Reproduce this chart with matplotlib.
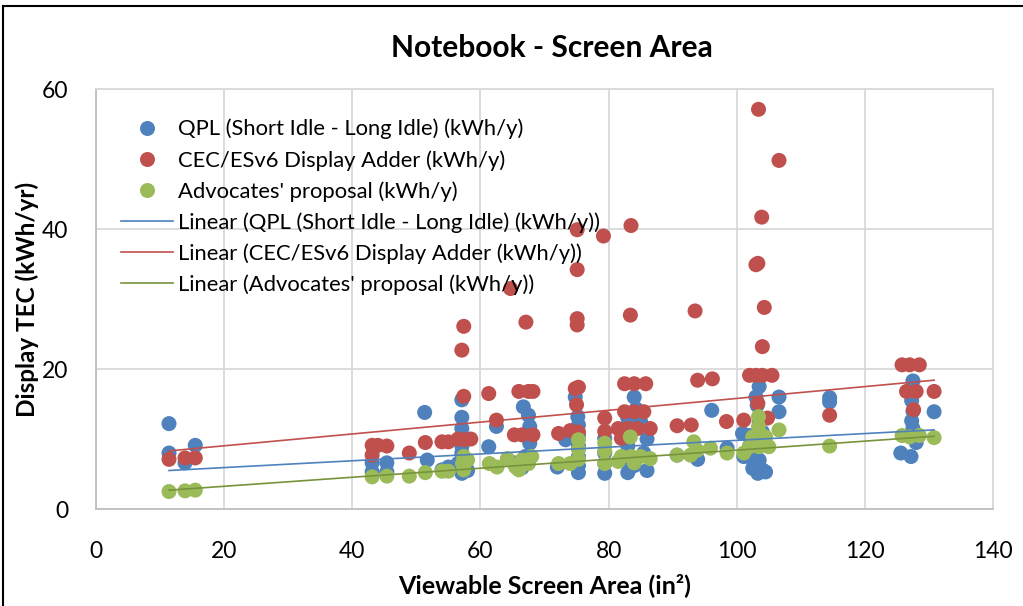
import numpy as np
import matplotlib.pyplot as plt
from matplotlib.lines import Line2D

plt.rcParams['font.family'] = ['Lato', 'DejaVu Sans']

# QPL (Short Idle - Long Idle)
qpl_x = [11.4, 11.4, 13.9, 15.5,
         43.1, 43.1, 45.4, 45.4,
         51.3, 51.7, 54.0, 55.0,
         57.1, 57.1, 57.1, 57.1, 57.1, 57.1, 57.1, 57.1, 57.1, 56.5, 58.0,
         61.3, 62.5,
         65.2, 66.7, 67.5, 67.7, 67.7, 66.5, 67.0,
         72.0, 73.3, 74.8, 75.2, 75.3, 75.3, 75.3, 75.3, 75.3, 75.3,
         79.4, 79.4, 79.4, 79.4,
         84.0, 84.3, 83.0, 85.0, 82.5, 86.0, 83.0, 85.5, 82.5, 84.0, 86.0, 83.0,
         93.9, 96.1, 90.7, 98.5,
         100.9, 101.1,
         103.5, 103.0, 103.2, 102.0, 102.0, 102.5, 103.5, 104.0, 103.5, 103.0, 104.0, 103.3, 104.5, 102.5,
         106.6, 106.6,
         114.5, 114.5,
         125.6, 127.2, 127.5, 127.5, 127.3, 127.5, 127.3, 127.5, 128.0,
         130.8]
qpl_y = [12.2, 8.0, 6.6, 9.1,
         6.6, 5.3, 6.6, 5.3,
         13.8, 7.0, 5.6, 6.0,
         15.6, 13.1, 11.5, 10.0, 9.0, 8.0, 7.0, 6.0, 5.1, 6.5, 5.5,
         8.9, 11.8,
         6.6, 14.6, 13.4, 11.8, 9.4, 5.9, 7.5,
         6.0, 9.9, 16.0, 13.2, 12.0, 10.5, 9.0, 7.5, 6.2, 5.2,
         10.1, 8.0, 6.5, 5.1,
         16.0, 14.3, 13.0, 12.5, 11.0, 10.0, 9.0, 8.0, 7.0, 6.2, 5.5, 5.2,
         7.1, 14.1, 7.7, 8.7,
         10.8, 7.5,
         17.5, 16.0, 14.8, 10.5, 9.0, 7.1, 12.5, 11.0, 7.0, 6.3, 5.6, 5.1, 5.3, 5.8,
         16.0, 13.9,
         15.9, 15.3,
         8.0, 7.5, 18.3, 17.0, 15.5, 14.0, 12.6, 11.5, 9.5,
         13.9]

# CEC/ESv6 Display Adder
cec_x = [11.4, 13.9, 15.5,
         43.1, 45.4, 43.1, 44.0,
         48.9, 51.4, 54.0, 55.0,
         57.4, 57.1, 57.4, 56.5, 58.5, 57.5,
         61.3, 62.5,
         64.7,
         67.1, 66.0, 67.5, 68.2, 65.3, 66.5, 68.2,
         72.2, 74.8, 75.3, 75.0, 75.1, 75.1, 75.1, 75.1, 75.3, 74.0,
         79.2, 79.4, 79.4,
         83.5, 83.4, 82.5, 84.0, 85.8, 82.5, 84.0, 85.5, 81.5, 83.0, 84.5, 86.5, 82.0,
         90.7, 92.9,
         93.5, 93.9, 96.2,
         98.4, 101.1,
         103.4, 106.6, 103.9, 103.0, 103.3, 104.3, 104.0, 102.0, 103.0, 104.0, 105.5, 103.3, 104.8,
         114.5,
         125.8, 127.0, 128.5, 126.5, 128.0, 127.6,
         130.8]
cec_y = [7.1, 7.3, 7.3,
         9.1, 9.0, 7.7, 9.1,
         8.0, 9.5, 9.6, 9.6,
         26.1, 22.7, 16.1, 10.0, 10.0, 9.9,
         16.5, 12.7,
         31.5,
         26.7, 16.8, 16.8, 16.8, 10.6, 10.6, 10.6,
         10.8, 17.2, 17.4, 14.9, 27.2, 26.3, 39.9, 34.2, 11.0, 11.2,
         39.0, 13.0, 11.1,
         40.5, 27.7, 17.9, 17.9, 17.9, 13.9, 13.9, 13.9, 11.5, 11.5, 11.5, 11.5, 10.1,
         11.9, 12.0,
         28.3, 18.4, 18.6,
         12.5, 12.7,
         57.1, 49.8, 41.7, 34.9, 35.1, 28.8, 23.2, 19.1, 19.1, 19.1, 19.1, 15.1, 13.0,
         13.4,
         20.6, 20.6, 20.6, 16.8, 16.8, 14.2,
         16.8]

# Advocates' proposal
adv_x = [11.4, 13.9, 15.5,
         43.1, 45.4, 48.9, 51.4, 54.0, 55.0,
         57.4, 57.2, 57.4, 58.0,
         61.4, 62.6,
         64.2, 65.5, 66.5, 67.5, 68.0, 66.0,
         72.2, 75.3, 75.3, 75.3, 74.0,
         79.4, 79.4, 79.4,
         83.4, 82.0, 83.5, 85.0, 86.5, 81.5, 84.0,
         90.7, 92.8, 93.3, 93.8, 95.9, 98.5, 101.1,
         103.4, 103.4, 102.5, 104.5, 102.0, 103.5, 105.0, 106.6,
         114.5,
         125.8, 127.0, 128.5,
         130.8]
adv_y = [2.5, 2.6, 2.7,
         4.6, 4.7, 4.7, 5.2, 5.4, 5.4,
         7.5, 6.5, 5.6, 7.0,
         6.5, 6.0,
         7.2, 6.0, 7.0, 6.5, 7.5, 5.6,
         6.5, 9.9, 8.5, 7.1, 6.5,
         9.4, 8.3, 6.5,
         10.3, 7.5, 7.5, 7.5, 7.2, 6.8, 6.6,
         7.7, 7.7, 9.6, 8.4, 8.7, 8.0, 8.0,
         13.2, 11.8, 10.3, 10.3, 8.9, 8.9, 8.9, 11.3,
         9.0,
         10.5, 10.3, 10.5,
         10.2]

# linear trendlines (full data set): intercept, slope
qpl_trend = [4.95, 0.0486]
cec_trend = [7.34, 0.0846]
adv_trend = [1.96, 0.0645]

series = [
    ("QPL (Short Idle - Long Idle) (kWh/y)", qpl_x, qpl_y, qpl_trend, '#4F81BD', '#4F81BD'),
    ("CEC/ESv6 Display Adder (kWh/y)", cec_x, cec_y, cec_trend, '#C0504D', '#C0504D'),
    ("Advocates' proposal (kWh/y)", adv_x, adv_y, adv_trend, '#9BBB59', '#77933C'),
]

fig = plt.figure(figsize=(10.23, 6.06), dpi=100)
ax = fig.add_axes([0.0938, 0.160, 0.8769, 0.6931])

dot_handles = []
line_handles = []
for label, xs, ys, trend, dot_col, line_col in series:
    ax.scatter(xs, ys, s=117, color=dot_col, edgecolors='none', zorder=3)
    dot_handles.append(Line2D([], [], ls='none', marker='o', markersize=10.8,
                              markerfacecolor=dot_col, markeredgecolor='none', label=label))

# trend lines span each series' x range
for label, xs, ys, trend, dot_col, line_col in series:
    xx = np.array([min(xs), max(xs)])
    ln, = ax.plot(xx, trend[0] + trend[1] * xx, color=line_col, lw=1.2, zorder=4,
                  label='Linear (%s)' % label)
    line_handles.append(ln)

ax.set_xlim(0, 140)
ax.set_ylim(0, 60)
ax.set_xticks(np.arange(0, 141, 20))
ax.set_yticks(np.arange(0, 61, 20))
ax.grid(True, color='#D9D9D9', lw=1.3)
ax.set_axisbelow(True)
for sp in ax.spines.values():
    sp.set_color('#D9D9D9')
    sp.set_linewidth(1.3)
ax.spines['bottom'].set_color('#BFBFBF')
ax.spines['left'].set_color('#BFBFBF')
ax.tick_params(length=0, labelsize=16.5)
ax.tick_params(axis='x', pad=23)
ax.tick_params(axis='y', pad=20)

ax.set_xlabel('Viewable Screen Area (in²)', fontsize=18, fontweight='bold', labelpad=8)
ax.set_ylabel('Display TEC (kWh/yr)', fontsize=17.5, fontweight='bold')
ax.yaxis.set_label_coords(-0.064, 0.5)

fig.text(0.5395, 0.9064, 'Notebook - Screen Area', fontsize=21.5, fontweight='bold',
         ha='center', va='baseline')

ax.legend(handles=dot_handles + line_handles, loc='upper left',
          bbox_to_anchor=(0.028, 0.929), frameon=False, fontsize=15.8,
          handlelength=2.37, handletextpad=0.23, labelspacing=0.48,
          borderaxespad=0, borderpad=0)

# chart frame on the top and left edges
fig.add_artist(Line2D([0.003, 1.0], [0.990, 0.990], color='black', lw=1.5,
                      transform=fig.transFigure))
fig.add_artist(Line2D([0.003, 0.003], [0.0, 0.990], color='black', lw=1.5,
                      transform=fig.transFigure))

fig.savefig('out.png', dpi=100)
